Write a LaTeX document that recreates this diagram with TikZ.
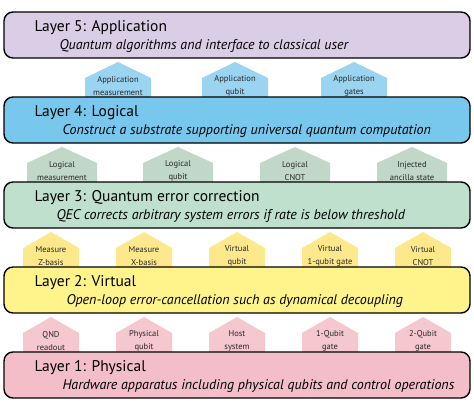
\documentclass[tikz,border=0pt]{standalone}
\usepackage{fontspec}
\setmainfont{PT Sans}
\usetikzlibrary{positioning}

\definecolor{appfill}{HTML}{D9CEE6}
\definecolor{apptab}{HTML}{9BD4F0}
\definecolor{logfill}{HTML}{78C8EE}
\definecolor{logtab}{HTML}{C1D8C8}
\definecolor{qecfill}{HTML}{BEE0CD}
\definecolor{qectab}{HTML}{FEE88C}
\definecolor{virtfill}{HTML}{FFF38C}
\definecolor{virttab}{HTML}{F5C8D0}
\definecolor{physfill}{HTML}{F3BEC8}

% name, x, base, half width, fill, text
\newcommand{\layertab}[6]{%
	\fill[#5] (#2-#4,#3) -- (#2-#4,#3-19) -- (#2,#3-35) -- (#2+#4,#3-19) -- (#2+#4,#3) -- cycle;
	\node[tabtext] (#1) at (#2,#3-11) {#6};
}

\begin{document}
\begin{tikzpicture}[
							x = 1pt,
							y = -1pt,
							layer/.style = {
								draw,
								rectangle,
								rounded corners = 9pt,
								line width = 1.4pt,
								minimum width = 466pt,
								minimum height = 46pt,
							},
							title/.style = {
								anchor = west,
								inner sep = 0pt,
								font = \fontsize{15.5}{18}\selectfont,
							},
							subtitle/.style = {
								anchor = west,
								inner sep = 0pt,
								font = \fontsize{14}{16}\selectfont\itshape,
							},
							tabtext/.style = {
								align = center,
								inner sep = 0pt,
								text = black!85,
								font = \fontsize{8.5}{12.5}\selectfont,
							}
						]
					\useasboundingbox (0,0) rectangle (474,404);

					\layertab{appMeas}{118}{97}{33}{apptab}{Application\\measurement}
					\layertab{appQubit}{235}{97}{33}{apptab}{Application\\qubit}
					\layertab{appGates}{354}{97}{33}{apptab}{Application\\gates}

					\layertab{logMeas}{62}{182}{35}{logtab}{Logical\\measurement}
					\layertab{logQubit}{178}{182}{35}{logtab}{Logical\\qubit}
					\layertab{logCnot}{295}{182}{35}{logtab}{Logical\\CNOT}
					\layertab{injAncilla}{412}{182}{35}{logtab}{Injected\\ancilla state}

					\layertab{measZ}{51}{267}{28}{qectab}{Measure\\Z-basis}
					\layertab{measX}{144}{267}{28}{qectab}{Measure\\X-basis}
					\layertab{virtQubit}{237}{267}{28}{qectab}{Virtual\\qubit}
					\layertab{virtGate}{330}{267}{28}{qectab}{Virtual\\1-qubit gate}
					\layertab{virtCnot}{423}{267}{28}{qectab}{Virtual\\CNOT}

					\layertab{qndReadout}{51}{352}{28}{virttab}{QND\\readout}
					\layertab{physQubit}{144}{352}{28}{virttab}{Physical\\qubit}
					\layertab{hostSystem}{237}{352}{28}{virttab}{Host\\system}
					\layertab{oneQubitGate}{330}{352}{28}{virttab}{1-Qubit\\gate}
					\layertab{twoQubitGate}{423}{352}{28}{virttab}{2-Qubit\\gate}

					\node [layer, fill = appfill] (application) at (237,35) {};
					\node [layer, fill = logfill] (logical) at (237,120) {};
					\node [layer, fill = qecfill] (qec) at (237,205) {};
					\node [layer, fill = virtfill] (virtual) at (237,290) {};
					\node [layer, fill = physfill] (physical) at (237,375) {};

					\node [title] (applicationTitle) at ([xshift = 31pt, yshift = -16pt] application.north west) {Layer 5: Application};
					\node [subtitle] (applicationNote) at ([xshift = 56pt, yshift = -35pt] application.north west) {Quantum algorithms and interface to classical user};

					\node [title] (logicalTitle) at ([xshift = 31pt, yshift = -16pt] logical.north west) {Layer 4: Logical};
					\node [subtitle] (logicalNote) at ([xshift = 59pt, yshift = -35pt] logical.north west) {Construct a substrate supporting universal quantum computation};

					\node [title] (qecTitle) at ([xshift = 31pt, yshift = -16pt] qec.north west) {Layer 3: Quantum error correction};
					\node [subtitle] (qecNote) at ([xshift = 53pt, yshift = -35pt] qec.north west) {QEC corrects arbitrary system errors if rate is below threshold};

					\node [title] (virtualTitle) at ([xshift = 31pt, yshift = -16pt] virtual.north west) {Layer 2: Virtual};
					\node [subtitle] (virtualNote) at ([xshift = 63pt, yshift = -35pt] virtual.north west) {Open-loop error-cancellation such as dynamical decoupling};

					\node [title] (physicalTitle) at ([xshift = 31pt, yshift = -16pt] physical.north west) {Layer 1: Physical};
					\node [subtitle] (physicalNote) at ([xshift = 59pt, yshift = -35pt] physical.north west) {Hardware apparatus including physical qubits and control operations};
				\end{tikzpicture}
\end{document}
